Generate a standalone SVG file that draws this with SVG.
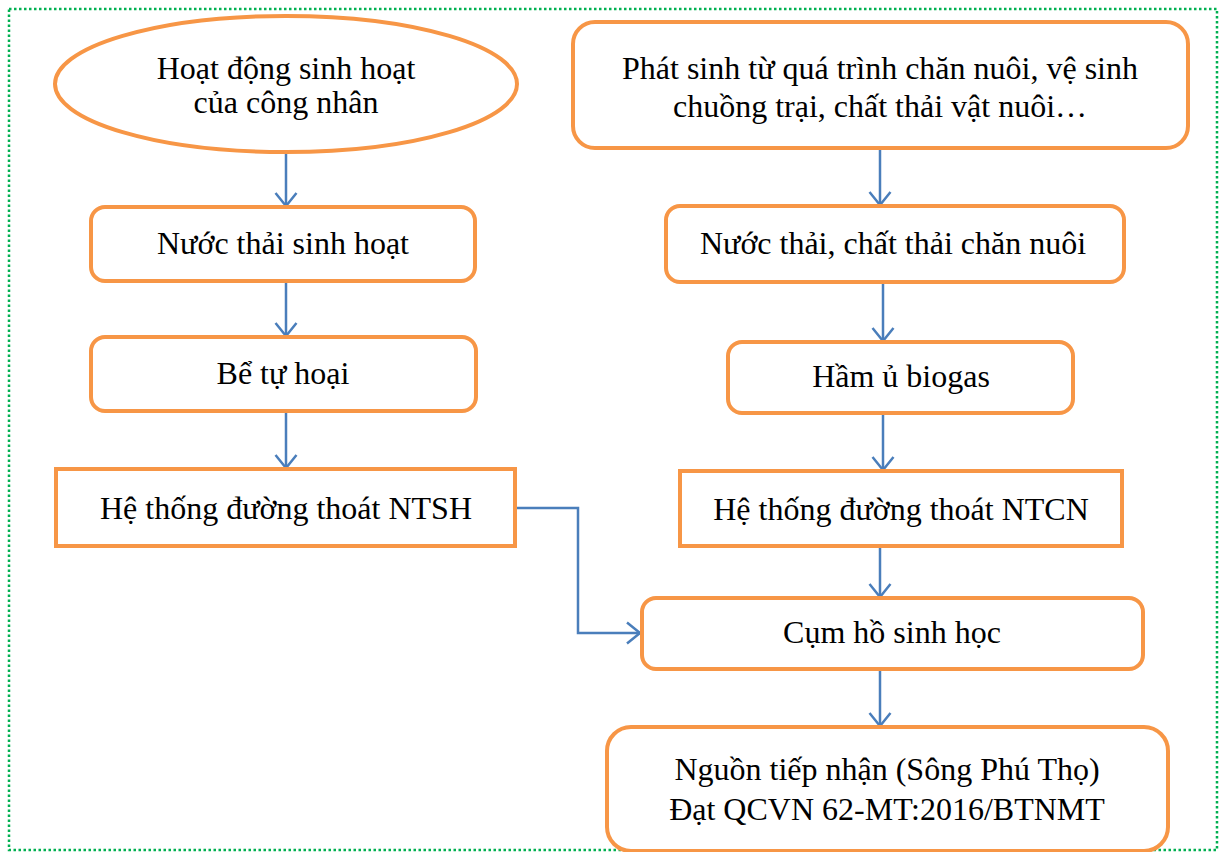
<svg xmlns="http://www.w3.org/2000/svg" width="1220" height="852" viewBox="0 0 1220 852">
  <defs>
    <marker id="arrow" markerWidth="16" markerHeight="24" refX="14" refY="12" orient="auto" markerUnits="userSpaceOnUse" viewBox="0 0 16 24">
      <path d="M1,1.5 L14,12 L1,22.5" fill="none" stroke="#4a7ebb" stroke-width="2.5"/>
    </marker>
  </defs>
  <style>
    .frame { fill: none; stroke: #00b050; stroke-width: 2.5; stroke-dasharray: 2.5 2.5; }
    .node { fill: #ffffff; stroke: #f79646; stroke-width: 4; }
    .label { font-family: "Liberation Serif", "Times New Roman", serif; font-size: 32px; fill: #000000; text-anchor: middle; }
    .link { fill: none; stroke: #4a7ebb; stroke-width: 2.5; marker-end: url(#arrow); }
  </style>
  <rect width="1220" height="852" fill="#ffffff"/>
  <rect class="frame" x="9" y="9" width="1208" height="841"/>

  <g id="connectors">
    <line class="link" x1="286" y1="153" x2="286" y2="206"/>
    <line class="link" x1="286" y1="282" x2="286" y2="336"/>
    <line class="link" x1="286" y1="412" x2="286" y2="468"/>
    <polyline class="link" points="515,508 578,508 578,633 640,633"/>
    <line class="link" x1="880" y1="149" x2="880" y2="205"/>
    <line class="link" x1="883" y1="283" x2="883" y2="341"/>
    <line class="link" x1="883" y1="414" x2="883" y2="470"/>
    <line class="link" x1="880" y1="547" x2="880" y2="597"/>
    <line class="link" x1="880" y1="670" x2="880" y2="726"/>
  </g>

  <g id="worker-activity">
    <ellipse class="node" cx="286" cy="84" rx="231" ry="68"/>
    <text class="label" x="286" y="79">Hoạt động sinh hoạt</text>
    <text class="label" x="286" y="113">của công nhân</text>
  </g>

  <g id="livestock-source">
    <rect class="node" x="573" y="22" width="615" height="126" rx="22"/>
    <text class="label" x="880" y="79">Phát sinh từ quá trình chăn nuôi, vệ sinh</text>
    <text class="label" x="880" y="117">chuồng trại, chất thải vật nuôi…</text>
  </g>

  <g id="domestic-wastewater">
    <rect class="node" x="91" y="207" width="384" height="74" rx="14"/>
    <text class="label" x="283" y="254">Nước thải sinh hoạt</text>
  </g>

  <g id="septic-tank">
    <rect class="node" x="91" y="337" width="385" height="74" rx="14"/>
    <text class="label" x="283" y="384">Bể tự hoại</text>
  </g>

  <g id="ntsh-drain">
    <rect class="node" x="56" y="469" width="459" height="77"/>
    <text class="label" x="286" y="519">Hệ thống đường thoát NTSH</text>
  </g>

  <g id="livestock-wastewater">
    <rect class="node" x="666" y="206" width="458" height="76" rx="14"/>
    <text class="label" x="893" y="254">Nước thải, chất thải chăn nuôi</text>
  </g>

  <g id="biogas-digester">
    <rect class="node" x="728" y="342" width="345" height="71" rx="14"/>
    <text class="label" x="901" y="387">Hầm ủ biogas</text>
  </g>

  <g id="ntcn-drain">
    <rect class="node" x="680" y="471" width="442" height="75"/>
    <text class="label" x="901" y="520">Hệ thống đường thoát NTCN</text>
  </g>

  <g id="biological-ponds">
    <rect class="node" x="642" y="598" width="501" height="71" rx="14"/>
    <text class="label" x="892" y="643">Cụm hồ sinh học</text>
  </g>

  <g id="receiving-water">
    <rect class="node" x="607" y="727" width="561" height="124" rx="24"/>
    <text class="label" x="887" y="780">Nguồn tiếp nhận (Sông Phú Thọ)</text>
    <text class="label" x="887" y="820">Đạt QCVN 62-MT:2016/BTNMT</text>
  </g>
</svg>
